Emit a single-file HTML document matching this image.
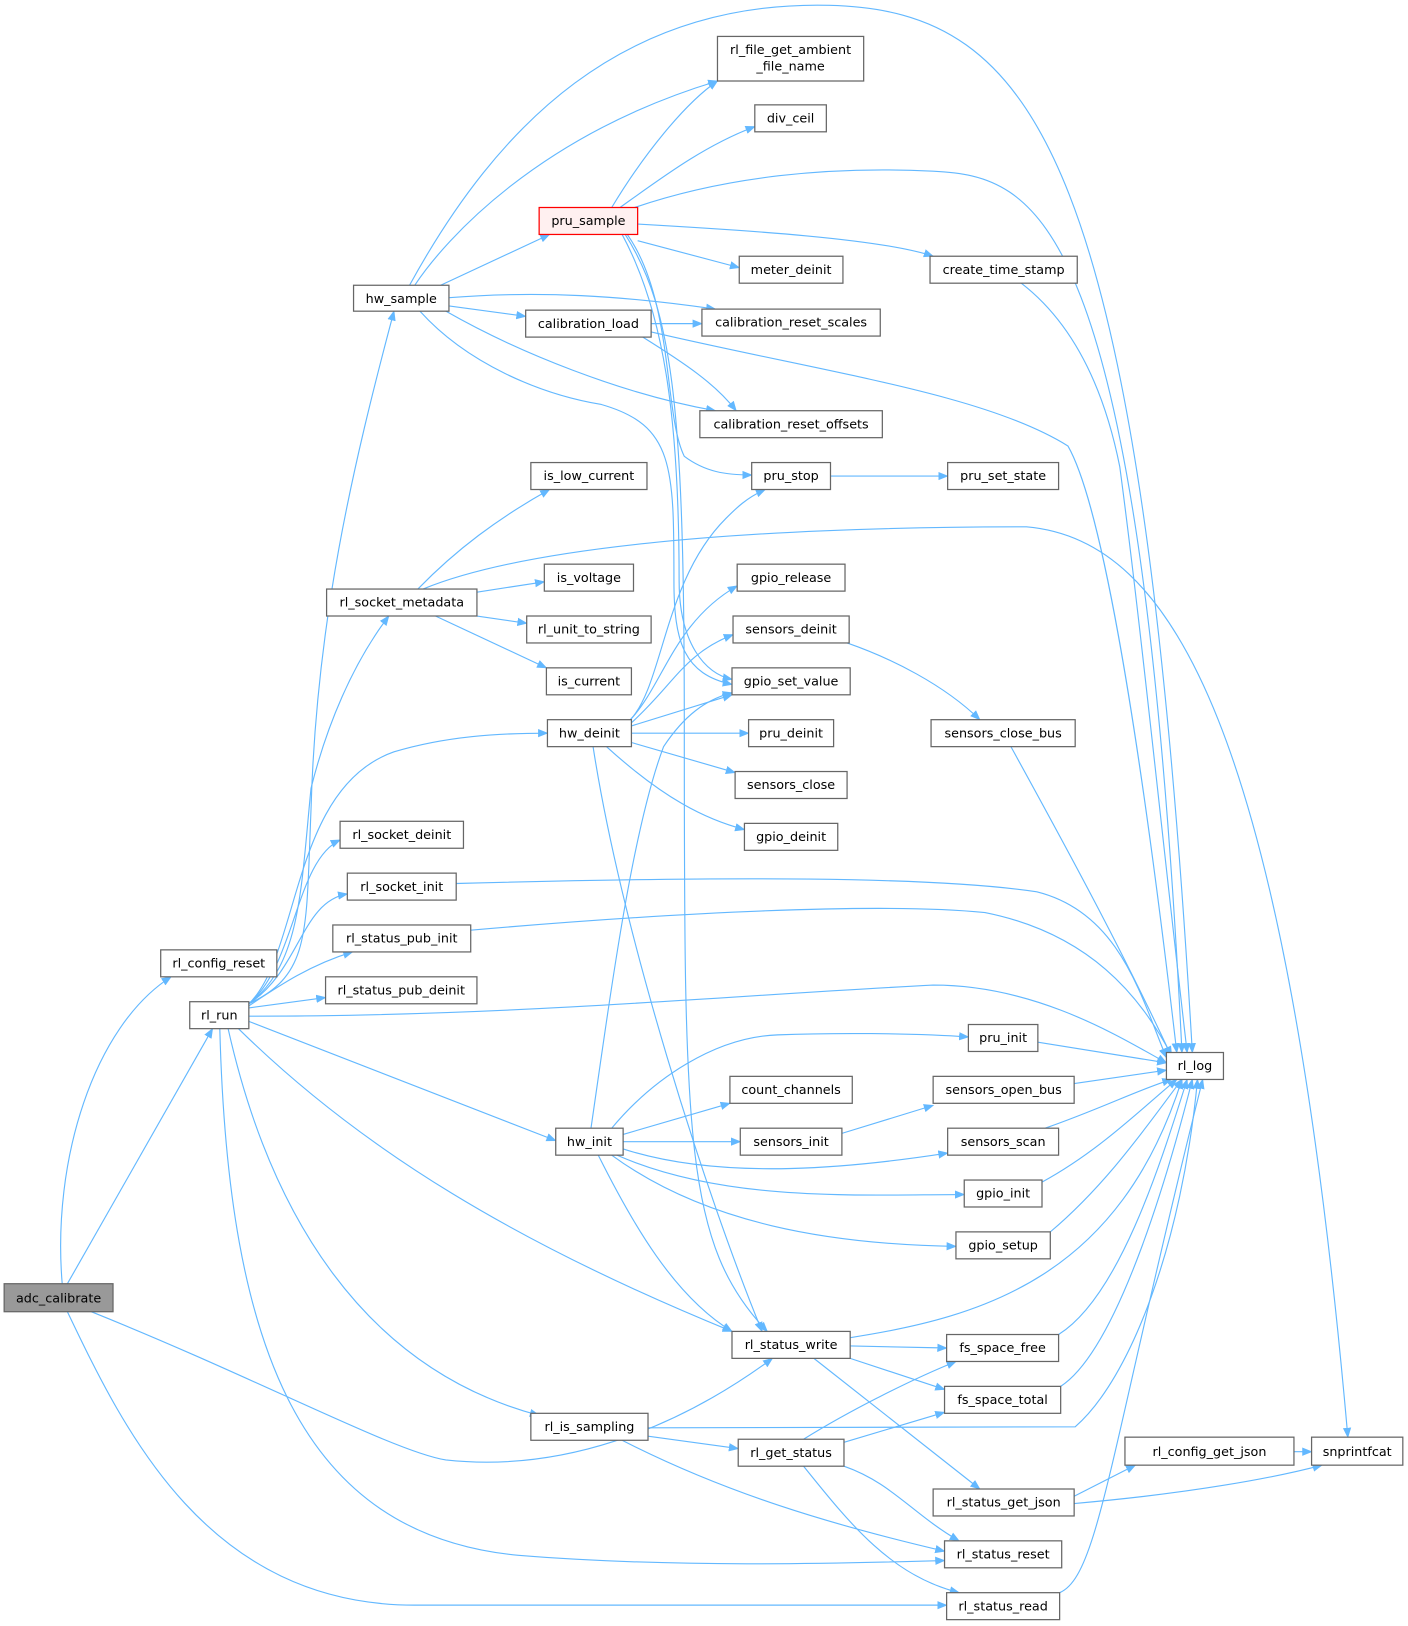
<!DOCTYPE html>
<html><head><meta charset="utf-8"><style>
html,body{margin:0;padding:0;background:#fff;}
svg{display:block;}
text{font-family:"DejaVu Sans","Liberation Sans",sans-serif;font-size:12.3px;fill:#000;text-anchor:middle;}
.n{fill:#fff;stroke:#666;stroke-width:1.2;}
.e{fill:none;stroke:#63b8ff;stroke-width:1.1;marker-end:url(#a);}
</style></head><body>
<svg width="1408" height="1626" viewBox="0 0 1358 1568" xmlns="http://www.w3.org/2000/svg">
<defs><marker id="a" viewBox="0 0 10 10" refX="9" refY="5" markerWidth="10" markerHeight="10" markerUnits="userSpaceOnUse" orient="auto"><path d="M0,1 L10,5 L0,9 z" fill="#63b8ff"/></marker></defs>
<g>
<path class="e" d="M60,1238 C50,1120 90,990 165,942"/>
<path class="e" d="M65,1238 L205,992"/>
<path class="e" d="M88,1265 C250,1330 380,1400 430,1408 C540,1420 650,1380 745,1310"/>
<path class="e" d="M65,1265 C120,1380 200,1548 400,1548 L913,1548"/>
<path class="e" d="M240,968 C300,940 295,900 300,780 C305,600 340,450 380,300"/>
<path class="e" d="M240,968 C290,930 290,860 300,760 C315,700 340,640 375,594"/>
<path class="e" d="M240,968 C285,930 285,830 328,810"/>
<path class="e" d="M240,968 C290,935 290,870 335,862"/>
<path class="e" d="M240,970 C270,950 300,930 340,918"/>
<path class="e" d="M240,972 L314,962"/>
<path class="e" d="M240,968 C290,920 280,760 380,725 C430,710 480,707 528,707"/>
<path class="e" d="M240,985 L536,1100"/>
<path class="e" d="M230,992 C350,1110 500,1200 706,1284"/>
<path class="e" d="M220,992 C260,1170 350,1320 520,1365"/>
<path class="e" d="M212,992 C220,1300 290,1480 500,1500 C650,1512 800,1508 911,1505"/>
<path class="e" d="M240,980 C500,980 700,960 900,950 C1000,950 1080,1000 1125,1025"/>
<path class="e" d="M400,275 C430,230 520,130 692,78"/>
<path class="e" d="M395,275 C480,120 600,0 800,5 C1000,10 1100,150 1150,1015"/>
<path class="e" d="M425,275 L530,226"/>
<path class="e" d="M433,295 L507,305"/>
<path class="e" d="M433,287 C520,280 600,285 690,298"/>
<path class="e" d="M430,300 C500,340 600,380 690,396"/>
<path class="e" d="M405,300 C450,350 520,380 580,390 C650,410 650,450 650,560 C650,620 660,650 706,660"/>
<path class="e" d="M590,200 C620,150 660,100 692,78"/>
<path class="e" d="M598,200 C640,170 680,140 728,122"/>
<path class="e" d="M612,200 C700,170 800,160 900,165 C1000,170 1100,200 1140,1015"/>
<path class="e" d="M615,232 L713,258"/>
<path class="e" d="M615,216 C720,222 850,230 900,247"/>
<path class="e" d="M605,226 C650,290 640,400 660,440 C680,455 700,458 725,458"/>
<path class="e" d="M603,226 C650,300 660,400 660,700 C660,1100 660,1200 740,1284"/>
<path class="e" d="M600,226 C640,300 655,400 655,560 C655,620 680,650 706,655"/>
<path class="e" d="M628,312 L677,312"/>
<path class="e" d="M620,325 C660,350 690,370 710,396"/>
<path class="e" d="M628,320 C800,360 950,380 1030,430 C1070,500 1110,800 1135,1015"/>
<path class="e" d="M985,273 C1020,300 1060,350 1080,450 C1100,600 1120,800 1145,1015"/>
<path class="e" d="M801,459 L914,459"/>
<path class="e" d="M403,568 C440,530 480,500 530,472"/>
<path class="e" d="M460,571 L525,561"/>
<path class="e" d="M460,594 L508,601"/>
<path class="e" d="M420,594 L527,644"/>
<path class="e" d="M408,568 C500,530 700,508 990,508 C1130,520 1240,700 1300,1386"/>
<path class="e" d="M608,694 C640,660 640,560 700,500 C710,490 720,480 738,472"/>
<path class="e" d="M608,694 C640,660 650,600 711,565"/>
<path class="e" d="M609,697 C650,660 660,630 707,612"/>
<path class="e" d="M609,700 L706,670"/>
<path class="e" d="M609,707 L722,707"/>
<path class="e" d="M609,716 L709,745"/>
<path class="e" d="M585,720 C640,770 680,790 718,800"/>
<path class="e" d="M572,720 C600,900 680,1150 735,1284"/>
<path class="e" d="M817,620 C860,635 910,660 945,694"/>
<path class="e" d="M975,720 C1030,820 1090,930 1140,1041"/>
<path class="e" d="M570,1088 C590,950 610,800 640,720 C660,690 680,675 706,668"/>
<path class="e" d="M590,1088 C630,1040 690,1000 750,998 C800,996 880,996 934,1000"/>
<path class="e" d="M601,1094 L704,1064"/>
<path class="e" d="M601,1101 L714,1101"/>
<path class="e" d="M601,1108 C700,1140 830,1125 914,1112"/>
<path class="e" d="M595,1114 C700,1160 830,1152 930,1152"/>
<path class="e" d="M590,1114 C680,1180 800,1200 922,1202"/>
<path class="e" d="M577,1114 C610,1180 650,1250 706,1284"/>
<path class="e" d="M812,1093 L900,1066"/>
<path class="e" d="M1001,1005 L1125,1025"/>
<path class="e" d="M1036,1045 L1125,1032"/>
<path class="e" d="M1008,1088 C1060,1070 1100,1050 1130,1041"/>
<path class="e" d="M1005,1140 C1060,1110 1100,1070 1135,1041"/>
<path class="e" d="M1013,1188 C1070,1140 1110,1080 1140,1041"/>
<path class="e" d="M440,852 C700,845 900,845 1000,860 C1080,880 1100,960 1125,1020"/>
<path class="e" d="M454,897 C650,880 850,870 950,880 C1050,900 1100,960 1130,1018"/>
<path class="e" d="M820,1290 C950,1270 1080,1230 1140,1041"/>
<path class="e" d="M820,1298 L913,1300"/>
<path class="e" d="M820,1310 L911,1340"/>
<path class="e" d="M785,1310 L945,1436"/>
<path class="e" d="M1021,1287 C1080,1250 1120,1120 1145,1041"/>
<path class="e" d="M1023,1337 C1080,1300 1130,1120 1150,1041"/>
<path class="e" d="M625,1377 L1037,1376 C1090,1330 1140,1200 1155,1041"/>
<path class="e" d="M625,1385 L712,1397"/>
<path class="e" d="M600,1389 C700,1440 800,1470 911,1496"/>
<path class="e" d="M775,1388 C820,1360 880,1330 922,1313"/>
<path class="e" d="M814,1391 L911,1362"/>
<path class="e" d="M814,1414 C860,1430 880,1460 925,1486"/>
<path class="e" d="M775,1414 C820,1470 860,1520 925,1536"/>
<path class="e" d="M1022,1536 C1060,1520 1070,1400 1160,1041"/>
<path class="e" d="M1036,1443 L1095,1413"/>
<path class="e" d="M1036,1450 C1150,1440 1230,1425 1275,1413"/>
<path class="e" d="M1248,1400 L1265,1400"/>
</g>
<g>
<rect x="4" y="1238" width="105" height="27" fill="#999" stroke="#666" stroke-width="1.2"/><text x="56.5" y="1256">adc_calibrate</text>
<rect class="n" x="155" y="916" width="112" height="26"/><text x="211" y="933">rl_config_reset</text>
<rect class="n" x="183" y="966" width="57" height="26"/><text x="211.5" y="983">rl_run</text>
<rect class="n" x="341" y="275" width="92" height="25"/><text x="387" y="292">hw_sample</text>
<rect class="n" x="315" y="568" width="145" height="26"/><text x="387.5" y="585">rl_socket_metadata</text>
<rect class="n" x="328" y="792" width="119" height="26"/><text x="387.5" y="809">rl_socket_deinit</text>
<rect class="n" x="335" y="842" width="105" height="26"/><text x="387.5" y="859">rl_socket_init</text>
<rect class="n" x="321" y="892" width="133" height="26"/><text x="387.5" y="909">rl_status_pub_init</text>
<rect class="n" x="314" y="942" width="146" height="26"/><text x="387" y="959">rl_status_pub_deinit</text>
<rect x="520" y="200" width="95" height="26" fill="#fff0f0" stroke="#f00" stroke-width="1.2"/><text x="567.5" y="217">pru_sample</text>
<rect class="n" x="507" y="299" width="121" height="26"/><text x="567.5" y="316">calibration_load</text>
<rect class="n" x="512" y="446" width="112" height="26"/><text x="568" y="463">is_low_current</text>
<rect class="n" x="525" y="544" width="86" height="26"/><text x="568" y="561">is_voltage</text>
<rect class="n" x="508" y="594" width="120" height="26"/><text x="568" y="611">rl_unit_to_string</text>
<rect class="n" x="527" y="644" width="82" height="26"/><text x="568" y="661">is_current</text>
<rect class="n" x="528" y="694" width="81" height="26"/><text x="568.5" y="711">hw_deinit</text>
<rect class="n" x="536" y="1088" width="65" height="26"/><text x="568.5" y="1105">hw_init</text>
<rect class="n" x="512" y="1363" width="113" height="26"/><text x="568.5" y="1380">rl_is_sampling</text>
<rect class="n" x="692" y="35" width="141" height="43"/><text x="762.5" y="52">rl_file_get_ambient</text><text x="762.5" y="68">_file_name</text>
<rect class="n" x="728" y="101" width="69" height="26"/><text x="762.5" y="118">div_ceil</text>
<rect class="n" x="713" y="247" width="100" height="26"/><text x="763" y="264">meter_deinit</text>
<rect class="n" x="677" y="298" width="172" height="26"/><text x="763" y="315">calibration_reset_scales</text>
<rect class="n" x="675" y="396" width="176" height="26"/><text x="763" y="413">calibration_reset_offsets</text>
<rect class="n" x="725" y="446" width="76" height="26"/><text x="763" y="463">pru_stop</text>
<rect class="n" x="711" y="544" width="104" height="26"/><text x="763" y="561">gpio_release</text>
<rect class="n" x="707" y="594" width="112" height="26"/><text x="763" y="611">sensors_deinit</text>
<rect class="n" x="706" y="644" width="114" height="26"/><text x="763" y="661">gpio_set_value</text>
<rect class="n" x="722" y="694" width="82" height="26"/><text x="763" y="711">pru_deinit</text>
<rect class="n" x="709" y="744" width="108" height="26"/><text x="763" y="761">sensors_close</text>
<rect class="n" x="718" y="794" width="90" height="26"/><text x="763" y="811">gpio_deinit</text>
<rect class="n" x="704" y="1038" width="118" height="26"/><text x="763" y="1055">count_channels</text>
<rect class="n" x="714" y="1088" width="98" height="26"/><text x="763" y="1105">sensors_init</text>
<rect class="n" x="706" y="1284" width="114" height="26"/><text x="763" y="1301">rl_status_write</text>
<rect class="n" x="712" y="1388" width="102" height="26"/><text x="763" y="1405">rl_get_status</text>
<rect class="n" x="897" y="247" width="142" height="26"/><text x="968" y="264">create_time_stamp</text>
<rect class="n" x="914" y="446" width="107" height="26"/><text x="967.5" y="463">pru_set_state</text>
<rect class="n" x="898" y="694" width="139" height="26"/><text x="967.5" y="711">sensors_close_bus</text>
<rect class="n" x="934" y="988" width="67" height="26"/><text x="967.5" y="1005">pru_init</text>
<rect class="n" x="900" y="1038" width="136" height="26"/><text x="968" y="1055">sensors_open_bus</text>
<rect class="n" x="914" y="1088" width="107" height="26"/><text x="967.5" y="1105">sensors_scan</text>
<rect class="n" x="930" y="1138" width="75" height="26"/><text x="967.5" y="1155">gpio_init</text>
<rect class="n" x="922" y="1188" width="91" height="26"/><text x="967.5" y="1205">gpio_setup</text>
<rect class="n" x="913" y="1287" width="108" height="26"/><text x="967" y="1304">fs_space_free</text>
<rect class="n" x="911" y="1337" width="112" height="26"/><text x="967" y="1354">fs_space_total</text>
<rect class="n" x="900" y="1436" width="136" height="26"/><text x="968" y="1453">rl_status_get_json</text>
<rect class="n" x="911" y="1486" width="113" height="26"/><text x="967.5" y="1503">rl_status_reset</text>
<rect class="n" x="913" y="1536" width="109" height="26"/><text x="967.5" y="1553">rl_status_read</text>
<rect class="n" x="1125" y="1015" width="55" height="26"/><text x="1152.5" y="1032">rl_log</text>
<rect class="n" x="1085" y="1386" width="163" height="27"/><text x="1166.5" y="1404">rl_config_get_json</text>
<rect class="n" x="1265" y="1386" width="88" height="27"/><text x="1309" y="1404">snprintfcat</text>
</g>
</svg>
</body></html>
